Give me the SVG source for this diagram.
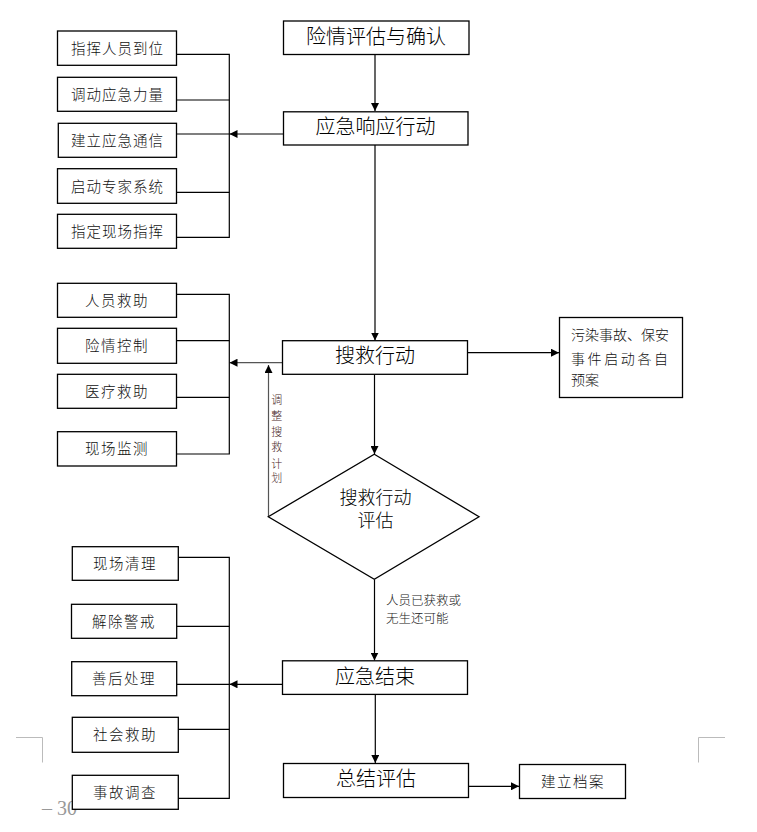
<svg xmlns="http://www.w3.org/2000/svg" width="757" height="832" viewBox="0 0 757 832">
<style>
.box{fill:#fff;stroke:#000;stroke-width:1.3}
.ln{fill:none;stroke:#000;stroke-width:1.2}
.lg{fill:none;stroke:#555;stroke-width:1.2}
.crn{fill:none;stroke:#bbb;stroke-width:1}
.big{font-family:"Noto Sans CJK SC","Noto Sans CJK JP",sans-serif;font-size:20px;font-weight:300;fill:#000;text-anchor:middle}
.sm{font-family:"Noto Sans CJK SC","Noto Sans CJK JP",sans-serif;font-size:14.5px;font-weight:300;fill:#111;text-anchor:middle;letter-spacing:1px}
.lab{font-family:"Noto Sans CJK SC","Noto Sans CJK JP",sans-serif;font-size:12.5px;font-weight:300;fill:#222}
.vl{font-family:"Noto Sans CJK SC","Noto Sans CJK JP",sans-serif;font-size:11px;font-weight:300;fill:#4a2a2a;text-anchor:middle}
.pg{font-family:"Liberation Serif",serif;font-size:20px;fill:#999}
</style>
<defs>
<marker id="ah" viewBox="0 0 8 8" refX="8" refY="4" markerWidth="8" markerHeight="8" markerUnits="userSpaceOnUse" orient="auto">
<path d="M0,0 L8,4 L0,8 z" fill="#000"/>
</marker>
</defs>

<g id="page-marks">
<polyline class="crn" points="16,737.5 42.5,737.5 42.5,762.5"/>
<polyline class="crn" points="698.5,762.5 698.5,737.5 725,737.5"/>
<text class="pg" x="42" y="815">– 30</text>
</g>

<g id="connectors">
<line class="ln" x1="375" y1="54.5" x2="375" y2="111" marker-end="url(#ah)"/>
<line class="ln" x1="375" y1="145" x2="375" y2="340.5" marker-end="url(#ah)"/>
<line class="ln" x1="374.5" y1="374.5" x2="374.5" y2="454" marker-end="url(#ah)"/>
<line class="ln" x1="374.5" y1="579.5" x2="374.5" y2="660.5" marker-end="url(#ah)"/>
<line class="ln" x1="375.3" y1="694.5" x2="375.3" y2="763" marker-end="url(#ah)"/>
<line class="ln" x1="283" y1="134" x2="229.5" y2="134" marker-end="url(#ah)"/>
<line class="lg" x1="282.5" y1="362.7" x2="229.5" y2="362.7" marker-end="url(#ah)"/>
<line class="ln" x1="282.5" y1="684.3" x2="229.5" y2="684.3" marker-end="url(#ah)"/>
<line class="ln" x1="467.5" y1="352.7" x2="559" y2="352.7" marker-end="url(#ah)"/>
<line class="ln" x1="468.5" y1="786.3" x2="519" y2="786.3" marker-end="url(#ah)"/>
<line class="lg" x1="268.5" y1="516.7" x2="268.5" y2="365" marker-end="url(#ah)"/>
<polyline class="ln" points="177,54.3 229.3,54.3 229.3,237.3 177,237.3"/>
<line class="ln" x1="177" y1="100" x2="229.3" y2="100"/>
<line class="ln" x1="177" y1="134" x2="229.3" y2="134"/>
<line class="ln" x1="177" y1="192.3" x2="229.3" y2="192.3"/>
<polyline class="ln" points="177,294.3 229.3,294.3 229.3,454 177,454"/>
<line class="ln" x1="177" y1="340.7" x2="229.3" y2="340.7"/>
<line class="ln" x1="177" y1="397.3" x2="229.3" y2="397.3"/>
<polyline class="ln" points="178,557.3 229.3,557.3 229.3,798.3 178,798.3"/>
<line class="ln" x1="177" y1="626.3" x2="229.3" y2="626.3"/>
<line class="ln" x1="177" y1="684.3" x2="229.3" y2="684.3"/>
<line class="ln" x1="178" y1="729.3" x2="229.3" y2="729.3"/>
<text class="vl"><tspan x="276.7" y="404">调</tspan><tspan x="276.7" y="419.7">整</tspan><tspan x="276.7" y="435.5">搜</tspan><tspan x="276.7" y="451">救</tspan><tspan x="276.7" y="467.5">计</tspan><tspan x="276.7" y="482">划</tspan></text>
<text class="lab"><tspan x="386" y="604.5">人员已获救或</tspan><tspan x="386" y="622.5">无生还可能</tspan></text>
</g>

<g id="n-assess"><rect class="box" x="283.5" y="21" width="185.5" height="33.5"/><text class="big" x="376" y="43.5">险情评估与确认</text></g>
<g id="n-response"><rect class="box" x="283.5" y="111.8" width="184.5" height="33.2"/><text class="big" x="375.5" y="133.5">应急响应行动</text></g>

<g id="n-r1"><rect class="box" x="57.5" y="31" width="119" height="34.3"/><text class="sm" x="117.5" y="53.5">指挥人员到位</text></g>
<g id="n-r2"><rect class="box" x="57.5" y="77.3" width="119" height="34"/><text class="sm" x="117.5" y="100">调动应急力量</text></g>
<g id="n-r3"><rect class="box" x="58.3" y="123.3" width="118.2" height="34"/><text class="sm" x="117.5" y="146">建立应急通信</text></g>
<g id="n-r4"><rect class="box" x="57.5" y="168.7" width="119" height="34.6"/><text class="sm" x="117.5" y="191.5">启动专家系统</text></g>
<g id="n-r5"><rect class="box" x="57.5" y="214.3" width="119" height="34"/><text class="sm" x="117.5" y="237">指定现场指挥</text></g>

<g id="n-search"><rect class="box" x="282.5" y="340.7" width="185" height="33.6"/><text class="big" x="375" y="362.6">搜救行动</text></g>
<g id="n-s1"><rect class="box" x="57.5" y="283.3" width="119" height="34"/><text class="sm" x="117" y="305.8" style="letter-spacing:1.5px">人员救助</text></g>
<g id="n-s2"><rect class="box" x="57.5" y="328.3" width="119" height="35"/><text class="sm" x="117" y="351.3" style="letter-spacing:1.5px">险情控制</text></g>
<g id="n-s3"><rect class="box" x="57.5" y="374.3" width="119" height="34"/><text class="sm" x="117" y="396.8" style="letter-spacing:1.5px">医疗救助</text></g>
<g id="n-s4"><rect class="box" x="57.5" y="431.7" width="119" height="34.3"/><text class="sm" x="117" y="454.3" style="letter-spacing:1.5px">现场监测</text></g>

<g id="n-plan"><rect class="box" x="559.5" y="317.5" width="123" height="80"/>
<text style="font-family:'Noto Sans CJK SC','Noto Sans CJK JP',sans-serif;font-size:14px;font-weight:300;fill:#111"><tspan x="571" y="340.3" textLength="98" lengthAdjust="spacing">污染事故、保安</tspan><tspan x="571" y="363.6" textLength="97" lengthAdjust="spacing">事件启动各自</tspan><tspan x="571" y="385.3">预案</tspan></text></g>

<g id="n-eval"><polygon class="box" points="374.3,454.3 479,516.7 374.3,579.3 268.3,516.7"/><text class="big" style="font-size:18px"><tspan x="375.5" y="504">搜救行动</tspan><tspan x="375.5" y="527">评估</tspan></text></g>

<g id="n-end"><rect class="box" x="282.5" y="660.8" width="185" height="33.6"/><text class="big" x="375" y="684">应急结束</text></g>
<g id="n-e1"><rect class="box" x="72.3" y="546.7" width="106" height="33.6"/><text class="sm" x="125" y="569" style="letter-spacing:1.5px">现场清理</text></g>
<g id="n-e2"><rect class="box" x="71.5" y="604.3" width="105.2" height="34"/><text class="sm" x="124" y="626.8" style="letter-spacing:1.5px">解除警戒</text></g>
<g id="n-e3"><rect class="box" x="71.7" y="661.7" width="105" height="34"/><text class="sm" x="124" y="684.2" style="letter-spacing:1.5px">善后处理</text></g>
<g id="n-e4"><rect class="box" x="72.3" y="717.3" width="106" height="35"/><text class="sm" x="125" y="740.3" style="letter-spacing:1.5px">社会救助</text></g>
<g id="n-e5"><rect class="box" x="72.3" y="775.3" width="106" height="34"/><text class="sm" x="125" y="797.8" style="letter-spacing:1.5px">事故调查</text></g>

<g id="n-summary"><rect class="box" x="283.5" y="763.5" width="185" height="34"/><text class="big" x="376" y="786">总结评估</text></g>
<g id="n-archive"><rect class="box" x="519.5" y="764.5" width="106" height="34"/><text class="sm" x="573" y="787" style="letter-spacing:1.5px">建立档案</text></g>
</svg>
